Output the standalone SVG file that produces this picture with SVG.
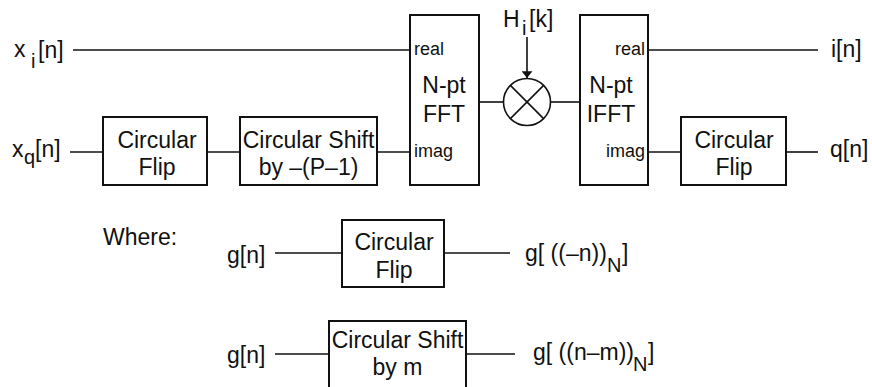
<svg xmlns="http://www.w3.org/2000/svg" width="872" height="387" viewBox="0 0 872 387">
<defs>
<style>
text{font-family:"Liberation Sans",Arial,sans-serif;font-size:23px;fill:#111}
.s{font-size:18px}
.sub{font-size:20px}
.m{text-anchor:middle}
.e{text-anchor:end}
.box{fill:#fff;stroke:#111;stroke-width:2}
.w{stroke:#111;stroke-width:1.6;fill:none}
</style>
<marker id="ah2" viewBox="0 0 10 16" refX="10" refY="8" markerWidth="16" markerHeight="11" markerUnits="userSpaceOnUse" orient="auto"><path d="M0,0 L10,8 L0,16 z" fill="#111"/></marker>
</defs>
<g id="connectors">
<line class="w" x1="73" y1="50" x2="410" y2="50"/>
<line class="w" x1="70" y1="152" x2="103" y2="152"/>
<line class="w" x1="207" y1="152" x2="240" y2="152"/>
<line class="w" x1="377" y1="152" x2="410" y2="152"/>
<line class="w" x1="479" y1="102" x2="504" y2="102"/>
<line class="w" x1="551" y1="102" x2="580" y2="102"/>
<line class="w" x1="527" y1="37" x2="527" y2="78" marker-end="url(#ah2)"/>
<line class="w" x1="648" y1="50" x2="818" y2="50"/>
<line class="w" x1="648" y1="152" x2="681" y2="152"/>
<line class="w" x1="786" y1="152" x2="818" y2="152"/>
<line class="w" x1="275" y1="253" x2="342" y2="253"/>
<line class="w" x1="444" y1="253" x2="510" y2="253"/>
<line class="w" x1="275" y1="354" x2="329" y2="354"/>
<line class="w" x1="466" y1="354" x2="515" y2="354"/>
</g>
<g id="xi-label"><text x="14" y="57">x</text><text class="sub" x="31" y="68">i</text><text x="38" y="58">[n]</text></g>
<g id="xq-label"><text x="12" y="157">x</text><text class="sub" x="24" y="164">q</text><text x="35" y="157">[n]</text></g>
<g id="flip1"><rect class="box" x="103" y="117" width="104" height="68"/><text class="m" x="157" y="148">Circular</text><text class="m" x="157" y="175">Flip</text></g>
<g id="shift1"><rect class="box" x="240" y="117" width="137" height="68"/><text class="m" x="308.5" y="148">Circular Shift</text><text class="m" x="308.5" y="175">by –(P–1)</text></g>
<g id="fft"><rect class="box" x="410" y="15" width="69" height="170"/><text class="s" x="414" y="55">real</text><text class="m" x="444" y="93">N-pt</text><text class="m" x="444" y="122">FFT</text><text class="s" x="414" y="157">imag</text></g>
<g id="mult"><circle class="w" cx="527" cy="102" r="23.5"/><line class="w" x1="510.4" y1="85.4" x2="543.6" y2="118.6"/><line class="w" x1="543.6" y1="85.4" x2="510.4" y2="118.6"/><text x="503" y="27">H</text><text class="sub" x="522" y="35">i</text><text x="529" y="27">[k]</text></g>
<g id="ifft"><rect class="box" x="580" y="15" width="68" height="170"/><text class="s e" x="645" y="55">real</text><text class="m" x="611" y="93">N-pt</text><text class="m" x="611" y="122">IFFT</text><text class="s e" x="645" y="157">imag</text></g>
<g id="flip2"><rect class="box" x="681" y="117" width="105" height="68"/><text class="m" x="734" y="148">Circular</text><text class="m" x="734" y="175">Flip</text></g>
<g id="i-out"><text x="831" y="57">i[n]</text></g>
<g id="q-out"><text x="830" y="157">q[n]</text></g>
<g id="where"><text x="103" y="245">Where:</text></g>
<g id="g1-in"><text x="227" y="263">g[n]</text></g>
<g id="flip-def"><rect class="box" x="342" y="220" width="102" height="67"/><text class="m" x="394" y="250">Circular</text><text class="m" x="394" y="278">Flip</text></g>
<g id="g1-out"><text x="525" y="261">g[ ((–n))</text><text class="sub" x="607" y="272">N</text><text x="622" y="261">]</text></g>
<g id="g2-in"><text x="227" y="363">g[n]</text></g>
<g id="shift-def"><rect class="box" x="329" y="321" width="137" height="70"/><text class="m" x="397.5" y="348">Circular Shift</text><text class="m" x="397.5" y="375">by m</text></g>
<g id="g2-out"><text x="533" y="360">g[ ((n–m))</text><text class="sub" x="633" y="371">N</text><text x="648" y="360">]</text></g>
</svg>
